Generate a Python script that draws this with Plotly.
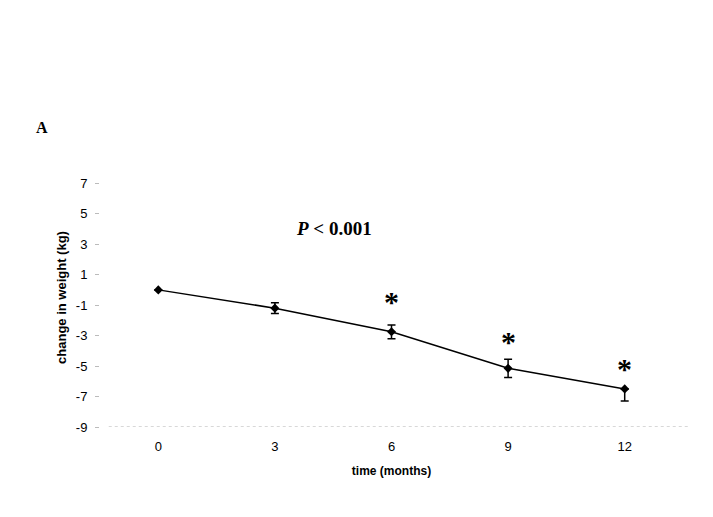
import plotly.graph_objects as go

months = [0, 3, 6, 9, 12]
weight_change = [0.0, -1.2, -2.75, -5.15, -6.5]
err_upper = [0.0, 0.35, 0.45, 0.6, 0.0]
err_lower = [0.0, 0.35, 0.45, 0.6, 0.8]
star_months = [6, 9, 12]
star_y = [-0.75, -3.4, -5.15]
y_ticks = [7, 5, 3, 1, -1, -3, -5, -7, -9]
y_tick_labels = ["7", "5", "3", "1", "-1", "-3", "-5", "-7", "-9"]
x_ticks = [0, 3, 6, 9, 12]

fig = go.Figure()
fig.add_trace(go.Scatter(
    x=months, y=weight_change, mode="lines+markers",
    line=dict(color="black", width=1.5),
    marker=dict(symbol="diamond", size=7, color="black"),
    error_y=dict(type="data", symmetric=False, array=err_upper, arrayminus=err_lower,
                 color="black", thickness=1.5, width=4),
    showlegend=False,
))

for xm, ys in zip(star_months, star_y):
    fig.add_annotation(x=xm, y=ys, text="<b>*</b>", showarrow=False,
                       font=dict(family="Liberation Serif", size=30, color="black"))

fig.add_annotation(x=4.53, y=4.05, text="<b><i>P</i> &lt; 0.001</b>", showarrow=False,
                   font=dict(family="Liberation Serif", size=19, color="black"))
fig.add_annotation(xref="paper", yref="paper", x=-0.113, y=1.197, text="<b>A</b>",
                   showarrow=False, font=dict(family="Liberation Serif", size=16, color="black"))

fig.add_shape(type="line", xref="paper", yref="y", x0=0.015, x1=1.01, y0=-9, y1=-9,
              line=dict(color="#b0b0b0", width=1, dash="dot"))

fig.update_layout(
    width=713, height=517,
    margin=dict(l=100, r=30, t=168, b=90),
    paper_bgcolor="white", plot_bgcolor="white",
    font=dict(family="Liberation Sans, Arial", size=13, color="black"),
    xaxis=dict(range=[-1.5, 13.5], tickvals=x_ticks, showgrid=False, zeroline=False,
               showline=False, ticks="outside", ticklen=7, tickcolor="white",
               tickfont=dict(size=13),
               title=dict(text="<b>time (months)</b>", font=dict(size=12), standoff=14)),
    yaxis=dict(range=[-9, 8], tickvals=y_ticks, ticktext=y_tick_labels, showgrid=False,
               zeroline=False, showline=False, ticks="outside", ticklen=4, tickcolor="#bbb",
               ticklabelstandoff=5, tickfont=dict(size=13),
               title=dict(text="<b>change in weight (kg)</b>", font=dict(size=13), standoff=6)),
)

fig.write_html("out.html")
